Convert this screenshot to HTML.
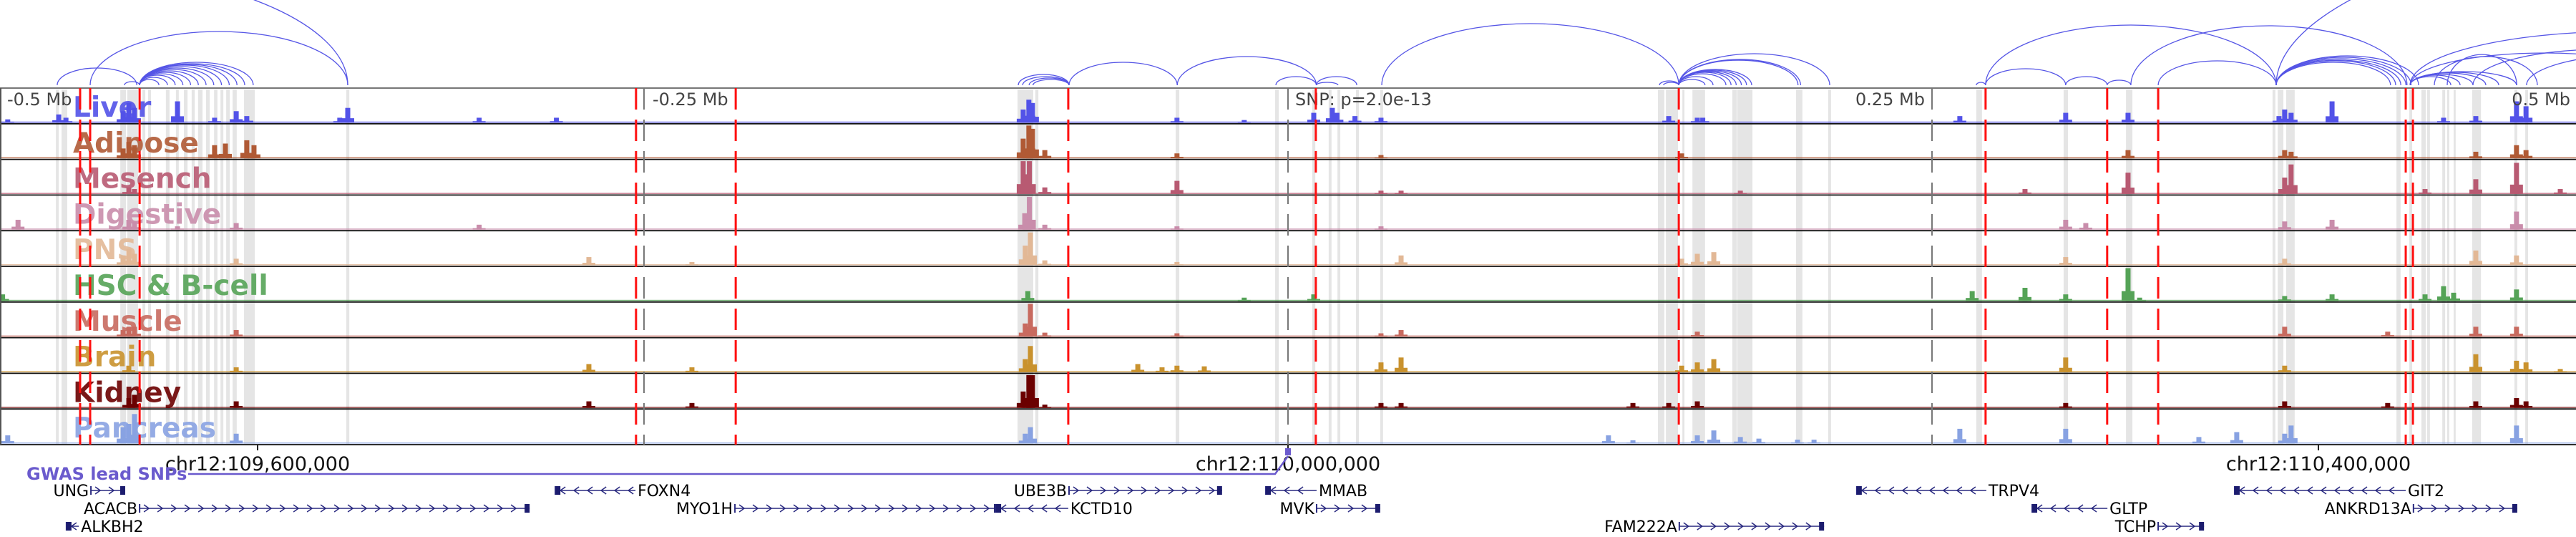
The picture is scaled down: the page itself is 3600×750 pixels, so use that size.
<!DOCTYPE html>
<html><head><meta charset="utf-8"><style>
html,body{margin:0;padding:0;background:#fff;}
svg{display:block;font-family:"DejaVu Sans","Liberation Sans",sans-serif;}
</style></head><body>
<svg id="chart" xmlns="http://www.w3.org/2000/svg" width="3600" height="750" viewBox="0 0 3600 750">
<g id="highlights"></g>
<g id="labels"></g>
<g id="tracks"></g>
<g id="frame"></g>
<g id="arcs" fill="none" stroke="#5555e6" stroke-width="1.3"></g>
<g id="axis"></g>
<g id="gwas"></g>
<g id="genes"></g>
</svg>
<script>
// window: 1 Mb starting at chr12:109,500,000; positions in kb offset from window start
const windowStartKb = 109500;
const windowKb = 1000;
const trackNames = ["Liver","Adipose","Mesench","Digestive","PNS","HSC & B-cell","Muscle","Brain","Kidney","Pancreas"];
const trackColors = ["#5252e8","#b05a35","#b85a72","#c98dab","#e2b896","#55a357","#c86a5f","#c9922e","#6b0000","#88a2e2"];
const liverPeaks = [[3,.1],[22.8,.25],[25.6,.15],[47.8,.35],[50,.6],[52.2,.45],[68.9,.65],[83.3,.15],[91.7,.35],[95.8,.2],[131.9,.15],[135,.45],[186,.15],[216,.15],[397.2,.4],[399.4,.7],[400.8,.6],[456.9,.15],[483,.08],[510,.3],[517.2,.45],[519,.3],[526,.2],[536.1,.15],[647.8,.2],[658.9,.15],[661,.15],[760.8,.2],[801.9,.3],[826.1,.3],[884.7,.2],[886.9,.4],[889.4,.3],[905.3,.65],[948.6,.15],[961.1,.2],[976.9,.65],[980.6,.5]];
const adiposePeaks = [[47.8,.3],[50,.5],[52.2,.4],[83.3,.4],[87.5,.45],[95.8,.55],[98.6,.4],[397.2,.6],[399.4,1],[400.8,.9],[405.6,.25],[456.9,.15],[536.1,.1],[652.8,.15],[826.1,.25],[886.9,.25],[889.4,.2],[961.1,.2],[976.9,.4],[980.6,.25]];
const mesenchPeaks = [[50,.2],[52.2,.15],[397.2,1],[398.3,.6],[399.6,1],[405.6,.2],[456.9,.4],[536.1,.1],[543.9,.1],[675.6,.1],[786.1,.15],[826.1,.65],[886.9,.5],[889.4,.9],[941.4,.15],[961.1,.45],[976.9,.95],[993.9,.15]];
const digestivePeaks = [[7,.3],[50,.3],[52.2,.25],[68.9,.1],[91.7,.2],[186,.15],[397.8,.5],[399.6,1],[405.6,.15],[456.9,.1],[536.1,.1],[801.9,.3],[809.7,.2],[886.9,.25],[905.3,.3],[976.9,.55]];
const pnsPeaks = [[47.8,.3],[50,.5],[52.2,.35],[91.7,.2],[228.6,.25],[268.6,.1],[398,.6],[400,1],[405.6,.15],[456.9,.1],[543.9,.3],[652.8,.2],[658.9,.35],[665.3,.4],[801.9,.25],[886.9,.2],[961.1,.45],[976.9,.3]];
const hscPeaks = [[1,.2],[399,.3],[483,.1],[510,.2],[765.6,.3],[786.1,.4],[801.9,.2],[826.1,1],[830.6,.1],[886.9,.15],[905.3,.2],[941.4,.2],[948.6,.45],[952.5,.25],[976.9,.35]];
const musclePeaks = [[47.8,.2],[50,.3],[52.2,.3],[91.7,.2],[398,.4],[400,1],[405.6,.12],[456.9,.1],[536.1,.1],[543.9,.2],[658.9,.15],[886.9,.3],[926.9,.15],[961.1,.3],[976.9,.3]];
const brainPeaks = [[50,.2],[91.7,.15],[228.6,.25],[268.6,.15],[398,.4],[400,.8],[441.7,.25],[451.1,.15],[456.9,.2],[467.5,.18],[536.1,.3],[543.9,.45],[652.8,.2],[658.9,.3],[665.3,.4],[801.9,.45],[886.9,.2],[961.1,.55],[976.9,.35],[980.6,.3],[993.9,.1]];
const kidneyPeaks = [[50,.3],[52.2,.4],[91.7,.2],[228.6,.2],[268.6,.15],[397.2,.5],[399.4,1],[400.8,1],[405.6,.1],[536.1,.15],[543.9,.15],[633.9,.15],[647.8,.15],[658.9,.2],[801.9,.15],[886.9,.2],[926.9,.15],[961.1,.2],[976.9,.3],[980.6,.2]];
const pancreasPeaks = [[3,.25],[47.8,.5],[50,.6],[52.2,.9],[91.7,.3],[398,.3],[400,.5],[624.4,.25],[633.9,.1],[658.9,.25],[665.3,.4],[675.6,.2],[682.8,.15],[697.8,.12],[704.2,.12],[760.8,.45],[801.9,.45],[853.6,.2],[868.3,.35],[886.9,.3],[889.4,.55],[976.9,.55]];
const trackPeaks = [liverPeaks,adiposePeaks,mesenchPeaks,digestivePeaks,pnsPeaks,hscPeaks,musclePeaks,brainPeaks,kidneyPeaks,pancreasPeaks];
const leadSnpsKb = [31.1,35,54.2,246.9,285.6,414.7,510.8,651.7,770.8,818,837.8,933.9,936.7];
const highlightStarts = [21.7,23.9,46.7,49.4,55.3,57.5,64.4,68.3,71.4,74.4,76.9,80,83.1,85.6,87.8,90.3,94.7,134.4,395,401.9,456.4,495,509.4,515.8,519.2,526.4,535.8,643.6,646.7,653.1,657,672.5,674.4,697.2,709.7,767.2,801.1,825.3,882.2,884.2,887.5,930.3,935.3,940,942.2,948.1,950,952.5,959.7,976.1,980.3];
const highlightEnds   = [22.8,26.1,48.9,53.6,56.4,58.6,65.8,69.4,72.8,75.6,78.6,81.4,84.4,86.7,89.2,91.9,98.9,135.6,401.1,403.1,457.8,496.4,510.6,516.9,520.3,527.5,536.9,646.1,651.4,653.9,661.9,674.2,680.3,699.7,710.8,769.4,802.8,827.8,883.3,886.4,890.8,931.9,936.4,941.7,943.3,949.2,950.8,953.3,963.1,977.2,981.4];
const arcStarts  = [22.2,35,-111,48.3,54.2,54.2,54.2,54.2,54.2,54.2,54.2,54.2,54.2,54.2,54.2,54.2,54.2,395.3,397,399.5,401,415,457,495.3,511,511,536.4,644.2,645.8,651.7,651.7,651.7,651.7,651.7,651.7,651.7,651.7,651.7,651.7,651.7,767.2,770.8,770.8,801.9,818,827.2,837.8,883.6,883.6,883.6,883.6,883.6,883.6,883.6,935.6,935.6,935.6,935.6,935.6,935.6,950,945,935.6,935.6,960,980.8];
const arcEnds    = [53.1,135,135,54.2,61.7,65,68,71,74,77,80,83,86,89,92,95,98.3,415,415,415,415,457,511,511,519.4,526.7,651.7,651.7,651.7,710.3,699,698,680,678,676,674,672,670,665,661.9,770.8,883.6,801.9,818,827.2,934.4,883.6,928,930,932,934,936,938.9,1400,951.4,955,960,965,970,976.9,977,985,1100,1040,1060,1080];
const arcHeights = [24,75,168,5,8,11,14,16,18,20,22,24,26,28,29,30,32,15,12,10,8,32,40,12,4,12,86,6,4,44,36,35,22,21,20,19,18,16,12,8,4,84,23,12,7,83,34,32,34,35,37,39,41,260,12,14,15,17,18,19,43,40,75,45,50,45];
const geneNames   = ["UNG","FOXN4","UBE3B","MMAB","TRPV4","GIT2","ACACB","MYO1H","KCTD10","MVK","GLTP","ANKRD13A","ALKBH2","FAM222A","TCHP"];
const geneStarts  = [35.3,215.6,415,491.4,720.8,867.5,54.2,285.3,386.7,511.1,788.9,936.9,25.8,651.9,837.8];
const geneEnds    = [48.6,246.7,474.4,511.1,771.1,933.9,205.6,387.8,414.7,535.8,818.1,977.2,30.6,708.1,855.6];
const geneStrands = ["+","-","+","-","-","-","+","+","-","+","-","+","-","+","+"];
const geneRows    = [0,0,0,0,0,0,1,1,1,1,1,1,2,2,2];
const axisTicksKb = [100,500,900];
const axisTickLabels = ["chr12:109,600,000","chr12:110,000,000","chr12:110,400,000"];
const relTicksKb = [0,250,500,750,1000];
const relTickLabels = ["-0.5 Mb","-0.25 Mb","SNP: p=2.0e-13","0.25 Mb","0.5 Mb"];
const gwasSnpKb = 500;

const NS="http://www.w3.org/2000/svg";
const W=3600, TOP=123, TH=49.8, NT=trackNames.length, BOT=TOP+TH*NT, ARCBASE=119;
const x = kb => kb/windowKb*W;
const yv = v => v*(TH-4);
function mk(tag, parent, attrs){const e=document.createElementNS(NS,tag);for(const k in attrs)e.setAttribute(k,attrs[k]);parent.appendChild(e);return e;}
const gH=document.getElementById('highlights'), gL=document.getElementById('labels'), gT=document.getElementById('tracks'),
 gF=document.getElementById('frame'), gA=document.getElementById('arcs'), gX=document.getElementById('axis'),
 gG=document.getElementById('gwas'), gN=document.getElementById('genes');

highlightStarts.forEach((s,i)=>{
  const r=mk('rect',gH,{x:x(s),y:TOP+2,width:Math.max(2,x(highlightEnds[i])-x(s)),height:BOT-TOP-3,fill:'#e5e5e5'});
  
  
});

trackNames.forEach((n,t)=>{
  const top=TOP+t*TH, base=top+TH-1.5;
  const lab=mk('text',gL,{x:102,y:top+40,fill:trackColors[t],'font-size':39,'font-weight':'bold','fill-opacity':0.9});
  lab.textContent=n;
  
  
  const g=mk('g',gT,{fill:trackColors[t]});
  
  
  const bl=mk('rect',g,{x:0,y:base-1.5,width:W,height:1.5,'fill-opacity':0.8});
  
  
  trackPeaks[t].forEach(p=>{
    const h=yv(p[1]);
    const b=mk('rect',g,{x:x(p[0])-3.5,y:base-h,width:7,height:h});
    
    
    const sh=mk('rect',g,{x:x(p[0])-9,y:base-h*0.3,width:18,height:h*0.3});
    
    
  });
  const ln=mk('line',gF,{x1:0,x2:W,y1:top+TH,y2:top+TH,stroke:'#111','stroke-width':1.8});
  
  
});
mk('line',gF,{x1:0,x2:W,y1:TOP,y2:TOP,stroke:'#777','stroke-width':2});
mk('line',gF,{x1:1,x2:1,y1:TOP,y2:BOT,stroke:'#555','stroke-width':2});

relTicksKb.forEach((k,i)=>{
  if(k>0 && k<windowKb){
    const d=mk('line',gF,{x1:x(k),x2:x(k),y1:TOP,y2:BOT,stroke:'#777','stroke-width':2,'stroke-dasharray':'30 14'});
    
    
  }
  let tx=x(k)+10, anchor='start';
  if(k===windowKb){tx=x(k)-8;anchor='end';}
  else if(k>0 && k!==500){tx=x(k)-10;anchor='end';}
  if(k===250){tx=x(k)+12;anchor='start';}
  const t=mk('text',gF,{x:tx,y:TOP+24,'font-size':24,fill:'#444','text-anchor':anchor});
  t.textContent=relTickLabels[i];
  
  
});

leadSnpsKb.forEach(k=>{
  const l=mk('line',gF,{x1:x(k),x2:x(k),y1:TOP,y2:BOT,stroke:'#ff1010','stroke-width':3,'stroke-dasharray':'30 14'});
  
  
});

arcStarts.forEach((s,i)=>{
  const x1=x(s), x2=x(arcEnds[i]), rx=(x2-x1)/2, ry=arcHeights[i];
  const p=mk('path',gA,{d:`M${x1},${ARCBASE} A${rx},${ry} 0 0 1 ${x2},${ARCBASE}`});
  
  
});

axisTicksKb.forEach((k,i)=>{
  mk('line',gX,{x1:x(k),x2:x(k),y1:BOT,y2:BOT+8,stroke:'#222','stroke-width':2});
  const t=mk('text',gX,{x:x(k),y:657,'font-size':27,fill:'#111','text-anchor':'middle'});
  t.textContent=axisTickLabels[i];
  
  
});

const gl=mk('text',gG,{x:37,y:670,'font-size':24,'font-weight':'bold',fill:'#6a5acd'});
gl.textContent='GWAS lead SNPs';


const sx=x(gwasSnpKb);
const gp=mk('path',gG,{d:`M263,662 L${sx-18},662 L${sx},637`,stroke:'#6a5acd','stroke-width':2.5,fill:'none'});


const gb=mk('rect',gG,{x:sx-4,y:626,width:8,height:10,fill:'#6a5acd'});



const rowY=[685,710,735];
geneNames.forEach((n,i)=>{
  const g=mk('g',gN,{});
  
  
  const x1=x(geneStarts[i]), x2=x(geneEnds[i]), y=rowY[geneRows[i]], plus=geneStrands[i]==='+';
  mk('line',g,{x1:x1,x2:x2,y1:y,y2:y,stroke:'#2a2a80','stroke-width':1.6});
  let d='';
  for(let cx=x1+10; cx<x2-6; cx+=19){
    d+= plus?`M${cx-4},${y-5} L${cx+3},${y} L${cx-4},${y+5} `:`M${cx+4},${y-5} L${cx-3},${y} L${cx+4},${y+5} `;
  }
  mk('path',g,{d:d,stroke:'#2a2a80','stroke-width':1.5,fill:'none'});
  mk('line',g,{x1:x1,x2:x1,y1:y-6,y2:y+6,stroke:'#2a2a80','stroke-width':2});
  mk('rect',g,{x:plus?x2-7:x1,y:y-6,width:7,height:12,fill:'#1c1c6e'});
  const t=mk('text',g,{x:plus?x1-3:x2+3,y:y+8,'font-size':22,fill:'#000','text-anchor':plus?'end':'start'});
  t.textContent=n;
});
</script>
</body></html>
